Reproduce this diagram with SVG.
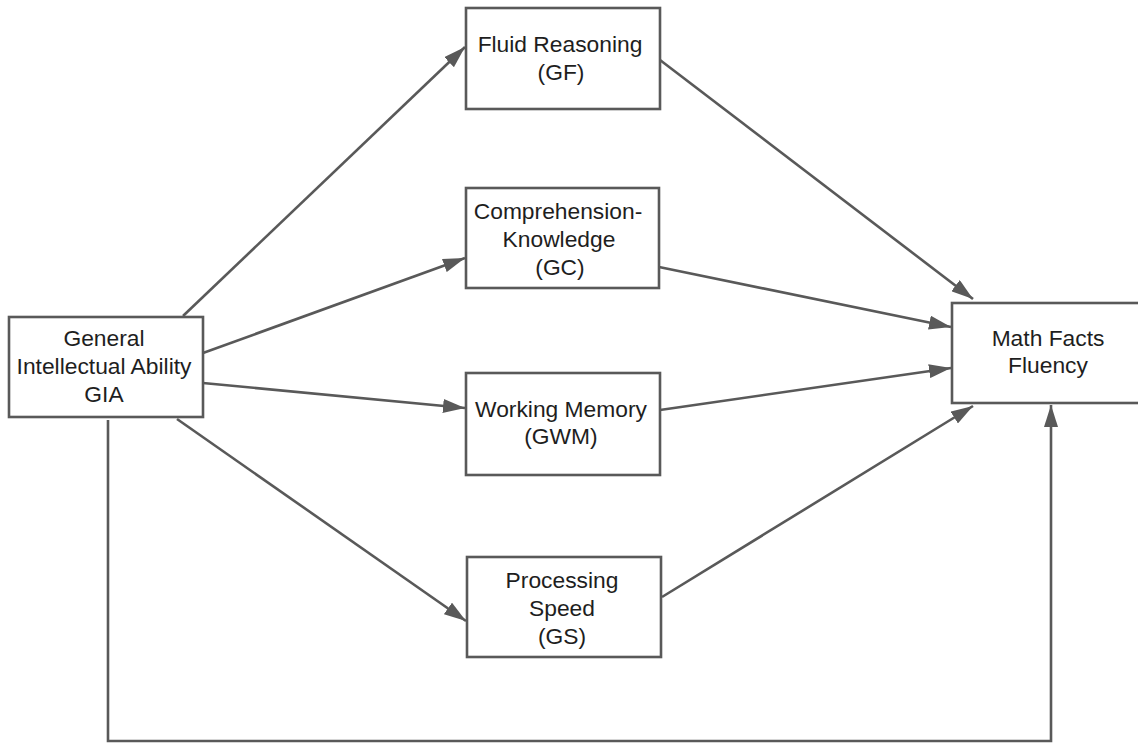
<svg xmlns="http://www.w3.org/2000/svg" width="1138" height="743" viewBox="0 0 1138 743">
<style>
.box{fill:#ffffff;stroke:#595959;stroke-width:2.6}
.lbl{font-family:"Liberation Sans",Arial,sans-serif;font-size:22.8px;fill:#1e1e1e;text-anchor:middle}
.edge{fill:none;stroke:#595959;stroke-width:2.6}
</style>
<defs>
<marker id="arr" viewBox="0 0 22 14" refX="22" refY="7" markerWidth="22" markerHeight="14" markerUnits="userSpaceOnUse" orient="auto">
<path d="M0,0 L22,7 L0,14 Z" fill="#595959"/>
</marker>
</defs>
<rect width="1138" height="743" fill="#ffffff"/>
<g id="connectors">
<line class="edge" x1="183" y1="316" x2="465" y2="47" marker-end="url(#arr)"/>
<line class="edge" x1="203" y1="353" x2="465" y2="258" marker-end="url(#arr)"/>
<line class="edge" x1="203" y1="383" x2="465" y2="408" marker-end="url(#arr)"/>
<line class="edge" x1="177" y1="419" x2="466" y2="621" marker-end="url(#arr)"/>
<line class="edge" x1="660" y1="60" x2="973" y2="299" marker-end="url(#arr)"/>
<line class="edge" x1="659" y1="267" x2="951" y2="327" marker-end="url(#arr)"/>
<line class="edge" x1="660" y1="410" x2="951" y2="368" marker-end="url(#arr)"/>
<line class="edge" x1="662" y1="597" x2="973" y2="406" marker-end="url(#arr)"/>
<polyline class="edge" points="108,420 108,741 1051,741 1051,405" marker-end="url(#arr)"/>
</g>
<g id="gia">
<rect class="box" x="9" y="317" width="194" height="100"/>
<text class="lbl" x="104" y="346">General</text>
<text class="lbl" x="104" y="374">Intellectual Ability</text>
<text class="lbl" x="104" y="402">GIA</text>
</g>
<g id="gf">
<rect class="box" x="466" y="8" width="194" height="101"/>
<text class="lbl" x="560" y="52">Fluid Reasoning</text>
<text class="lbl" x="561" y="80">(GF)</text>
</g>
<g id="gc">
<rect class="box" x="466" y="188" width="193" height="100"/>
<text class="lbl" x="558" y="219">Comprehension-</text>
<text class="lbl" x="559" y="247">Knowledge</text>
<text class="lbl" x="560" y="275">(GC)</text>
</g>
<g id="gwm">
<rect class="box" x="466" y="373" width="194" height="102"/>
<text class="lbl" x="561" y="417">Working Memory</text>
<text class="lbl" x="561" y="444">(GWM)</text>
</g>
<g id="gs">
<rect class="box" x="467" y="557" width="194" height="100"/>
<text class="lbl" x="562" y="588">Processing</text>
<text class="lbl" x="562" y="616">Speed</text>
<text class="lbl" x="562" y="644">(GS)</text>
</g>
<g id="math">
<rect class="box" x="952" y="303" width="200" height="100"/>
<text class="lbl" x="1048" y="346">Math Facts</text>
<text class="lbl" x="1048" y="373">Fluency</text>
</g>
</svg>
